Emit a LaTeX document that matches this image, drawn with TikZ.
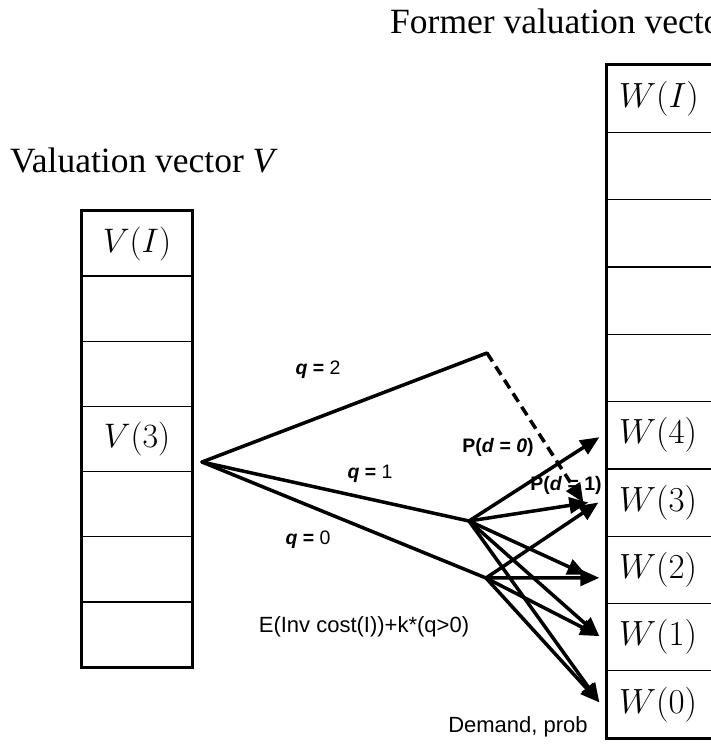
\RequirePackage{fix-cm}
\documentclass[tikz,border=0pt]{standalone}
\usepackage[no-math]{fontspec}
\newfontfamily\serifface{Liberation Serif}
\newfontfamily\sansface{Liberation Sans}
\usepackage{xcolor}
\usepackage{tikz}
\usetikzlibrary{positioning,arrows.meta}
\definecolor{mInk}{HTML}{000000}
\tikzset{
 titletext/.style={font=\serifface\fontsize{35.5}{40}\selectfont, inner sep=0pt},
 tagtext/.style={font=\sansface\fontsize{19.5}{22}\selectfont, inner sep=0pt, text=mInk},
 notetext/.style={font=\sansface\fontsize{22}{26}\selectfont, inner sep=0pt, text=mInk},
 branch/.style={draw=mInk, line width=3.5pt, line cap=round},
 probarrow/.style={draw=mInk, line width=3.5pt, -{Triangle[length=19pt,width=16pt]}}
}
\newcommand{\lcell}[3]{%
 \node[draw=mInk, line width=1.3pt, minimum width=110pt, minimum height=65.14pt, inner sep=0pt, font=\fontsize{34}{40}\selectfont] (#1) at (137,#2) {#3};}
\newcommand{\rcell}[3]{%
 \node[draw=mInk, line width=1.3pt, text width=140pt, align=left, minimum height=67.3pt, inner xsep=12pt, inner ysep=0pt, font=\fontsize{35}{40}\selectfont] (#1) at (689,#2) {#3};}

\begin{document}
\begin{tikzpicture}[x=1pt,y=-1pt]
\useasboundingbox (0,0) rectangle (711,744);
\clip (0,0) rectangle (711,744);
% titles
\node[titletext, anchor=base west] (vtitle) at (10,172) {Valuation vector \textit{V}};
\node[titletext, anchor=base west] (wtitle) at (390,33) {Former valuation vector};
% valuation vector V
\lcell{vI}{243.6}{$V(I)$}
\lcell{v5}{308.7}{}
\lcell{v4}{373.9}{}
\lcell{v3}{439.0}{$V(3)$}
\lcell{v2}{504.1}{}
\lcell{v1}{569.3}{}
\lcell{v0}{634.4}{}
\draw[mInk, line width=3.5pt] (vI.north west) rectangle (v0.south east);
% former valuation vector W
\rcell{wI}{98.7}{$W(I)$}
\rcell{w8}{166.0}{}
\rcell{w7}{233.3}{}
\rcell{w6}{300.6}{}
\rcell{w5}{367.9}{}
\rcell{w4}{435.2}{$W(4)$}
\rcell{w3}{502.5}{$W(3)$}
\rcell{w2}{569.8}{$W(2)$}
\rcell{w1}{637.1}{$W(1)$}
\rcell{w0}{704.4}{$W(0)$}
\draw[mInk, line width=3.5pt] (wI.north west) rectangle (w0.south east);
% order quantities
\coordinate (src) at (202,462);
\coordinate (q2end) at (487,353);
\coordinate (b1) at (469,521);
\coordinate (b0) at (486,578);
\draw[branch] (src) -- (q2end);
\draw[branch] (src) -- (b1);
\draw[branch] (src) -- (b0);
\draw[probarrow, dash pattern=on 10pt off 6pt] (q2end) -- ([shift={(-23,0)}]w3.west);
% demand outcomes
\draw[probarrow] (b1) -- ([shift={(-7,2)}]w4.west);
\draw[probarrow] (b1) -- ([shift={(-18,0)}]w3.west);
\draw[probarrow] (b1) -- ([shift={(-20,5)}]w2.west);
\draw[probarrow] (b1) -- ([shift={(-7,-1)}]w1.west);
\draw[probarrow] (b1) -- ([shift={(-7,-2)}]w0.west);
\draw[probarrow] (b0) -- ([shift={(-8,0)}]w3.west);
\draw[probarrow] (b0) -- ([shift={(-7,8)}]w2.west);
\draw[probarrow] (b0) -- ([shift={(-7,-1)}]w1.west);
\draw[probarrow] (b0) -- ([shift={(-7,-2)}]w0.west);
% labels
\node[tagtext] (q2lbl) at (318,370) {\textbf{\textit{q}} \textbf{=} 2};
\node[tagtext] (q1lbl) at (370,474) {\textbf{\textit{q}} \textbf{=} 1};
\node[tagtext] (q0lbl) at (308,540) {\textbf{\textit{q}} \textbf{=} 0};
\node[tagtext] (p0lbl) at (498,447) {\bfseries P(\textit{d} = \textit{0})};
\node[tagtext] (p1lbl) at (566,485) {\bfseries P(\textit{d} = 1)};
\node[notetext] (costlbl) at (364,627) {E(Inv cost(I))+k*(q>0)};
\node[notetext] (demlbl) at (518,727) {Demand, prob};
\end{tikzpicture}
\end{document}
